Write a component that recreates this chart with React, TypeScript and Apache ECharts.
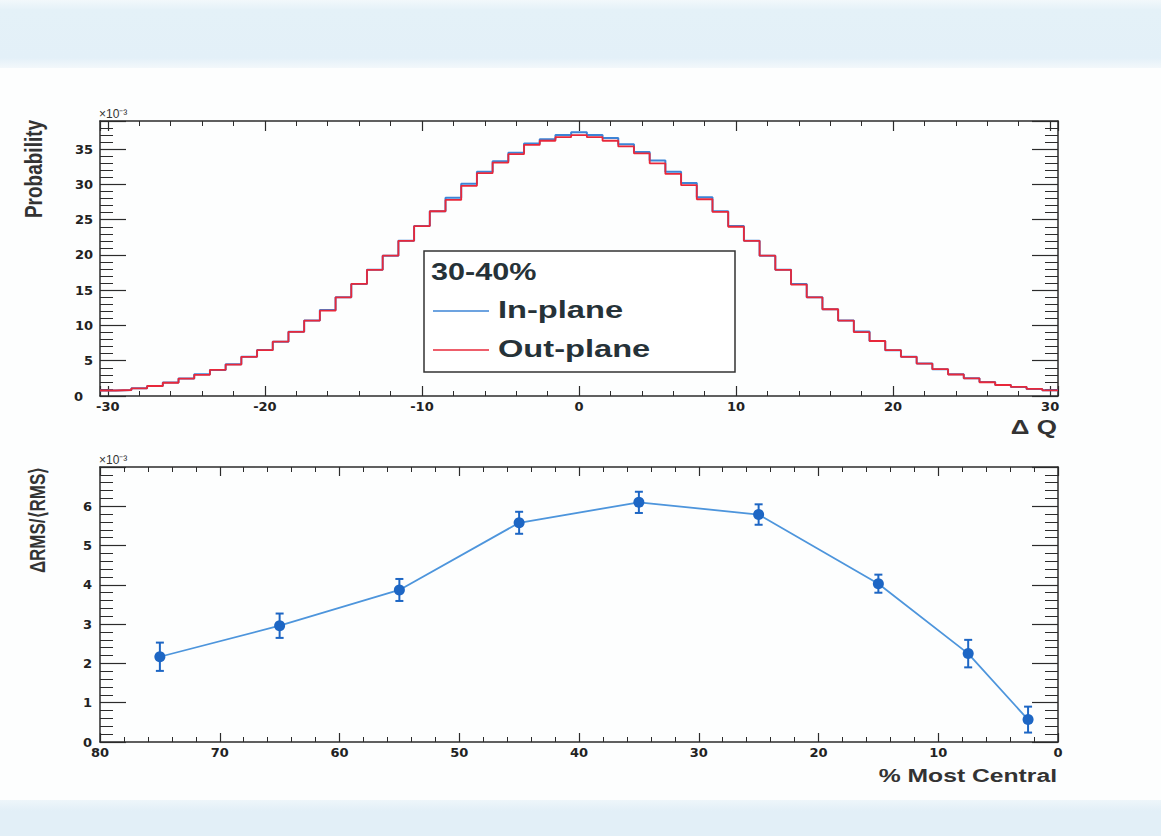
import React, { useEffect, useRef } from "react";
import * as echarts from "echarts";

// ---- Top panel: ΔQ distributions (×10^-3), bins of width 1 centred on integers
const binCenters = [
  -30, -29, -28, -27, -26, -25, -24, -23, -22, -21, -20, -19, -18, -17, -16, -15,
  -14, -13, -12, -11, -10, -9, -8, -7, -6, -5, -4, -3, -2, -1, 0, 1, 2, 3, 4, 5,
  6, 7, 8, 9, 10, 11, 12, 13, 14, 15, 16, 17, 18, 19, 20, 21, 22, 23, 24, 25, 26,
  27, 28, 29, 30,
];
const inPlane = [
  0.78, 0.85, 1.09, 1.42, 1.9, 2.47, 3.08, 3.7, 4.5, 5.55, 6.54, 7.7, 9.1, 10.7,
  12.2, 14.0, 15.9, 17.9, 19.9, 22.0, 24.1, 26.2, 28.1, 30.1, 31.8, 33.3, 34.5,
  35.8, 36.4, 37.0, 37.4, 37.0, 36.6, 35.7, 34.6, 33.4, 31.8, 30.2, 28.2, 26.2,
  24.1, 22.0, 19.9, 17.9, 15.9, 14.0, 12.3, 10.7, 9.15, 7.8, 6.5, 5.55, 4.6, 3.8,
  3.1, 2.5, 2.0, 1.56, 1.28, 1.0, 0.81,
];
const outPlane = [
  0.78, 0.85, 1.09, 1.42, 1.88, 2.47, 3.0, 3.7, 4.45, 5.55, 6.5, 7.7, 9.1, 10.7,
  12.1, 14.0, 15.9, 17.9, 19.9, 22.0, 24.1, 26.2, 27.8, 29.8, 31.6, 33.1, 34.3,
  35.6, 36.2, 36.7, 37.0, 36.7, 36.2, 35.4, 34.4, 33.0, 31.5, 29.9, 27.9, 26.1,
  24.0, 22.0, 19.9, 17.9, 15.8, 14.0, 12.3, 10.7, 9.05, 7.8, 6.5, 5.55, 4.6, 3.8,
  3.05, 2.5, 1.95, 1.56, 1.28, 1.0, 0.81,
];

// ---- Bottom panel: ΔRMS/<RMS> (×10^-3) vs % most central
const centrality = [75, 65, 55, 45, 35, 25, 15, 7.5, 2.5];
const dRms = [2.17, 2.96, 3.87, 5.58, 6.1, 5.79, 4.03, 2.25, 0.57];
const dRmsErr = [0.36, 0.31, 0.28, 0.28, 0.27, 0.26, 0.23, 0.35, 0.33];

const legendTitle = "30-40%";
const seriesNames = ["In-plane", "Out-plane"];

const BLUE = "#3d84d6";
const RED = "#e8283a";
const MARK = "#1d66c4";
const MARKLINE = "#4d95dc";
const AXIS = "#2b2b2b";
const TXT = "#222";
const TICKFONT = "DejaVu Sans";
const TITLEFONT = "Liberation Sans";

function stepData(vals: number[]) {
  const out: number[][] = [];
  binCenters.forEach((c, i) => {
    out.push([c - 0.5, vals[i]]);
    out.push([c + 0.5, vals[i]]);
  });
  return out;
}

function frameAxis(extra: any, labels: boolean, majorLen: number, minorLen: number) {
  return {
    type: "value",
    splitLine: { show: false },
    axisLine: { show: true, onZero: false, lineStyle: { color: AXIS, width: 1.5 } },
    axisTick: { show: true, inside: true, length: majorLen, lineStyle: { color: AXIS, width: 1.2 } },
    minorTick: { show: true, splitNumber: 5, length: minorLen, lineStyle: { color: AXIS, width: 1 } },
    axisLabel: {
      show: labels,
      color: TXT,
      fontFamily: TICKFONT,
      fontWeight: "bold",
      fontSize: 13,
    },
    ...extra,
  };
}

export default function App() {
  const ref = useRef<HTMLDivElement>(null);
  useEffect(() => {
    if (!ref.current) return;
    const chart = echarts.init(ref.current, undefined, { renderer: "svg" });

    const topX = { min: -30.5, max: 30.5, splitNumber: 6 };
    const xFmt = (v: number) => (Number.isInteger(v) && v % 10 === 0 ? String(v) : "");

    const option: any = {
      animation: false,
      backgroundColor: "#fdfefe",
      grid: [
        { left: 100, top: 121, width: 958, height: 275 },
        { left: 100, top: 467, width: 958, height: 275 },
      ],
      xAxis: [
        frameAxis(
          {
            gridIndex: 0,
            position: "bottom",
            ...topX,
            axisLabel: {
              show: true, color: TXT, fontFamily: TICKFONT, fontWeight: "bold", fontSize: 13,
              margin: 4, showMinLabel: false, showMaxLabel: false, formatter: xFmt,
            },
          },
          true, 10, 5
        ),
        frameAxis({ gridIndex: 0, position: "top", ...topX }, false, 10, 5),
        frameAxis(
          {
            gridIndex: 1,
            position: "bottom",
            min: 0,
            max: 80,
            interval: 10,
            inverse: true,
            axisLabel: {
              show: true, color: TXT, fontFamily: TICKFONT, fontWeight: "bold", fontSize: 13, margin: 4,
            },
          },
          true, 9, 5
        ),
        frameAxis({ gridIndex: 1, position: "top", min: 0, max: 80, interval: 10, inverse: true }, false, 9, 5),
      ],
      yAxis: [
        frameAxis(
          {
            gridIndex: 0,
            position: "left",
            min: 0,
            max: 39,
            interval: 5,
            axisLabel: {
              show: true, color: TXT, fontFamily: TICKFONT, fontWeight: "bold", fontSize: 13,
              margin: 7, showMaxLabel: false,
              formatter: (v: number) => (v === 0 ? "{z|0}" : v % 5 === 0 ? String(v) : ""),
              rich: { z: { padding: [0, 10, 0, 0], fontFamily: TICKFONT, fontWeight: "bold", fontSize: 13, color: TXT } },
            },
          },
          true, 26, 13
        ),
        frameAxis({ gridIndex: 0, position: "right", min: 0, max: 39, interval: 5 }, false, 26, 13),
        frameAxis(
          {
            gridIndex: 1,
            position: "left",
            min: 0,
            max: 7,
            interval: 1,
            axisLabel: {
              show: true, color: TXT, fontFamily: TICKFONT, fontWeight: "bold", fontSize: 13,
              margin: 8, showMaxLabel: false,
            },
          },
          true, 26, 13
        ),
        frameAxis({ gridIndex: 1, position: "right", min: 0, max: 7, interval: 1 }, false, 26, 13),
      ],
      series: [
        {
          name: seriesNames[0],
          type: "line",
          xAxisIndex: 0,
          yAxisIndex: 0,
          data: stepData(inPlane),
          symbol: "none",
          lineStyle: { color: BLUE, width: 2 },
          z: 2,
        },
        {
          name: seriesNames[1],
          type: "line",
          xAxisIndex: 0,
          yAxisIndex: 0,
          data: stepData(outPlane),
          symbol: "none",
          lineStyle: { color: RED, width: 1.8 },
          z: 3,
        },
        {
          type: "custom",
          xAxisIndex: 2,
          yAxisIndex: 2,
          encode: { x: 0, y: [1, 2] },
          data: centrality.map((c, i) => [c, dRms[i] - dRmsErr[i], dRms[i] + dRmsErr[i]]),
          renderItem: (_p: any, api: any) => {
            const x = api.value(0);
            const lo = api.coord([x, api.value(1)]);
            const hi = api.coord([x, api.value(2)]);
            const st = { stroke: MARK, lineWidth: 2 };
            const w = 4;
            return {
              type: "group",
              children: [
                { type: "line", shape: { x1: lo[0], y1: lo[1], x2: hi[0], y2: hi[1] }, style: st },
                { type: "line", shape: { x1: lo[0] - w, y1: lo[1], x2: lo[0] + w, y2: lo[1] }, style: st },
                { type: "line", shape: { x1: hi[0] - w, y1: hi[1], x2: hi[0] + w, y2: hi[1] }, style: st },
              ],
            };
          },
          z: 3,
        },
        {
          type: "line",
          xAxisIndex: 2,
          yAxisIndex: 2,
          data: centrality.map((c, i) => [c, dRms[i]]),
          symbol: "circle",
          symbolSize: 11,
          itemStyle: { color: MARK },
          lineStyle: { color: MARKLINE, width: 1.8 },
          z: 4,
        },
      ],
      graphic: [
        {
          type: "rect",
          z: 0,
          shape: { x: 0, y: 0, width: 1161, height: 68 },
          style: {
            fill: new echarts.graphic.LinearGradient(0, 0, 0, 1, [
              { offset: 0, color: "#f2f8fb" },
              { offset: 0.15, color: "#e4f1f8" },
              { offset: 0.85, color: "#e3f0f8" },
              { offset: 1, color: "#f3f8fb" },
            ]),
          },
        },
        {
          type: "rect",
          z: 0,
          shape: { x: 0, y: 800, width: 1161, height: 36 },
          style: {
            fill: new echarts.graphic.LinearGradient(0, 0, 0, 1, [
              { offset: 0, color: "#eef6fa" },
              { offset: 0.3, color: "#e2eff7" },
              { offset: 1, color: "#e2eff7" },
            ]),
          },
        },
        {
          type: "text",
          x: 34,
          y: 169,
          rotation: Math.PI / 2,
          scaleY: 1.3,
          z: 10,
          style: { text: "Probability", font: `bold 19px '${TITLEFONT}'`, fill: "#333", align: "center", verticalAlign: "middle" },
        },
        {
          type: "text",
          x: 37,
          y: 520,
          rotation: Math.PI / 2,
          scaleY: 1.3,
          z: 10,
          style: { text: "ΔRMS/⟨RMS⟩", font: `bold 17px '${TITLEFONT}'`, fill: "#333", align: "center", verticalAlign: "middle" },
        },
        {
          type: "text",
          x: 1057,
          y: 427,
          scaleX: 1.3,
          z: 10,
          style: { text: "Δ Q", font: `bold 20px '${TITLEFONT}'`, fill: "#333", align: "right", verticalAlign: "middle" },
        },
        {
          type: "text",
          x: 1057,
          y: 776,
          scaleX: 1.3,
          z: 10,
          style: { text: "% Most Central", font: `bold 19px '${TITLEFONT}'`, fill: "#333", align: "right", verticalAlign: "middle" },
        },
        {
          type: "text",
          x: 99,
          y: 120,
          z: 10,
          style: { text: "×10⁻³", font: `12px '${TITLEFONT}'`, fill: "#333", align: "left", verticalAlign: "bottom" },
        },
        {
          type: "text",
          x: 99,
          y: 466,
          z: 10,
          style: { text: "×10⁻³", font: `12px '${TITLEFONT}'`, fill: "#333", align: "left", verticalAlign: "bottom" },
        },
        {
          type: "rect",
          z: 20,
          shape: { x: 424, y: 251, width: 311, height: 121 },
          style: { fill: "#ffffff", stroke: "#333", lineWidth: 1.5 },
        },
        {
          type: "text",
          x: 431,
          y: 272,
          scaleX: 1.33,
          z: 21,
          style: { text: legendTitle, font: `bold 23px '${TITLEFONT}'`, fill: "#263238", align: "left", verticalAlign: "middle" },
        },
        {
          type: "line",
          z: 21,
          shape: { x1: 433, y1: 311, x2: 489, y2: 311 },
          style: { stroke: BLUE, lineWidth: 1.6 },
        },
        {
          type: "text",
          x: 498,
          y: 310,
          scaleX: 1.36,
          z: 21,
          style: { text: seriesNames[0], font: `bold 24px '${TITLEFONT}'`, fill: "#263238", align: "left", verticalAlign: "middle" },
        },
        {
          type: "line",
          z: 21,
          shape: { x1: 433, y1: 350, x2: 489, y2: 350 },
          style: { stroke: RED, lineWidth: 1.6 },
        },
        {
          type: "text",
          x: 498,
          y: 349,
          scaleX: 1.36,
          z: 21,
          style: { text: seriesNames[1], font: `bold 24px '${TITLEFONT}'`, fill: "#263238", align: "left", verticalAlign: "middle" },
        },
      ],
    };

    chart.setOption(option);
    return () => chart.dispose();
  }, []);

  return (
    <div
      ref={ref}
      style={{ position: "absolute", left: 0, top: 0, width: 1161, height: 836 }}
    />
  );
}
